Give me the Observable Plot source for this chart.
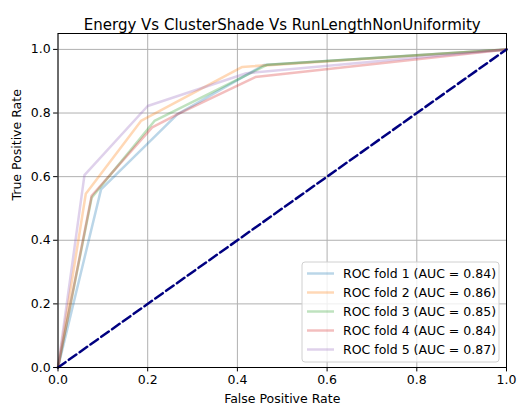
<!DOCTYPE html>
<html><head><meta charset="utf-8">
<script src="https://cdn.jsdelivr.net/npm/d3@7"></script>
<script src="https://cdn.jsdelivr.net/npm/@observablehq/plot@0.6"></script>
<style>
body{margin:0;background:#fff;font-family:"DejaVu Sans",sans-serif;}
#chart{position:relative;width:518px;height:409px;}
</style></head><body><div id="chart"></div>
<script>
const title = "Energy Vs ClusterShade Vs RunLengthNonUniformity";
const foldNames = ["ROC fold 1 (AUC = 0.84)","ROC fold 2 (AUC = 0.86)","ROC fold 3 (AUC = 0.85)","ROC fold 4 (AUC = 0.84)","ROC fold 5 (AUC = 0.87)"];
const foldColors = ["#1f77b4","#ff7f0e","#2ca02c","#d62728","#9467bd"];
const fpr1 = [0, 0.096, 0.266, 0.459, 1];
const tpr1 = [0, 0.560, 0.796, 0.951, 1];
const fpr2 = [0, 0.062, 0.185, 0.411, 1];
const tpr2 = [0, 0.546, 0.775, 0.945, 1];
const fpr3 = [0, 0.075, 0.215, 0.467, 1];
const tpr3 = [0, 0.534, 0.775, 0.952, 1];
const fpr4 = [0, 0.075, 0.210, 0.266, 0.440, 1];
const tpr4 = [0, 0.540, 0.755, 0.796, 0.913, 1];
const fpr5 = [0, 0.059, 0.200, 0.420, 1];
const tpr5 = [0, 0.605, 0.822, 0.925, 1];
const chanceX = [0, 1];
const chanceY = [0, 1];
const ticks = [0, 0.2, 0.4, 0.6, 0.8, 1.0];

const folds = [[fpr1,tpr1],[fpr2,tpr2],[fpr3,tpr3],[fpr4,tpr4],[fpr5,tpr5]];
const rows = folds.flatMap(([f,t],i)=>f.map((x,j)=>({fold:foldNames[i],x,y:t[j]})));
const chance = chanceX.map((x,i)=>({x,y:chanceY[i]}));

const plot = Plot.plot({
  width:518, height:409,
  marginLeft:57.5, marginRight:12, marginTop:33, marginBottom:42,
  style:{fontFamily:"DejaVu Sans", fontSize:"12.5px", color:"#000", background:"#fff"},
  x:{domain:[0,1], label:null},
  y:{domain:[0,1.05], label:null},
  color:{domain:foldNames, range:foldColors},
  marks:[
    Plot.gridX(ticks,{stroke:"#b0b0b0", strokeOpacity:1, strokeWidth:1}),
    Plot.gridY(ticks,{stroke:"#b0b0b0", strokeOpacity:1, strokeWidth:1}),
    Plot.line(rows,{x:"x",y:"y",z:"fold",stroke:"fold",strokeWidth:2.5,strokeOpacity:0.3}),
    Plot.line(chance,{x:"x",y:"y",stroke:"navy",strokeWidth:2.5,strokeDasharray:"9.25,4"}),
    Plot.frame({stroke:"#000", strokeWidth:1}),
    Plot.axisX(ticks,{tickFormat:d3.format(".1f"), fontSize:12.5, tickSize:4.4, tickPadding:3, label:null}),
    Plot.axisY(ticks,{tickFormat:d3.format(".1f"), fontSize:12.5, tickSize:4.4, tickPadding:3, label:null}),
    Plot.text([title],{frameAnchor:"top", dy:-14, fontSize:15, fill:"#000"}),
    Plot.text(["False Positive Rate"],{frameAnchor:"bottom", dy:35, fontSize:12.5, fill:"#000"}),
    Plot.text(["True Positive Rate"],{frameAnchor:"left", dx:-41.5, rotate:-90, fontSize:12.5, fill:"#000"})
  ]
});
document.getElementById("chart").appendChild(plot);

// legend
const svg = d3.select(plot);
const lg = svg.append("g").attr("transform","translate(302,262)");
lg.append("rect").attr("width",197).attr("height",100).attr("rx",3)
  .attr("fill","#fff").attr("fill-opacity",0.8).attr("stroke","#d0d0d0");
foldNames.forEach((n,i)=>{
  const y = 11.5 + i*19;
  lg.append("line").attr("x1",5).attr("x2",32).attr("y1",y).attr("y2",y)
    .attr("stroke",foldColors[i]).attr("stroke-opacity",0.3).attr("stroke-width",2.5);
  lg.append("text").attr("x",41).attr("y",y).attr("dy","0.35em").attr("text-anchor","start")
    .attr("font-size",12.5).attr("font-family","DejaVu Sans").attr("fill","#000").text(n);
});
</script></body></html>
